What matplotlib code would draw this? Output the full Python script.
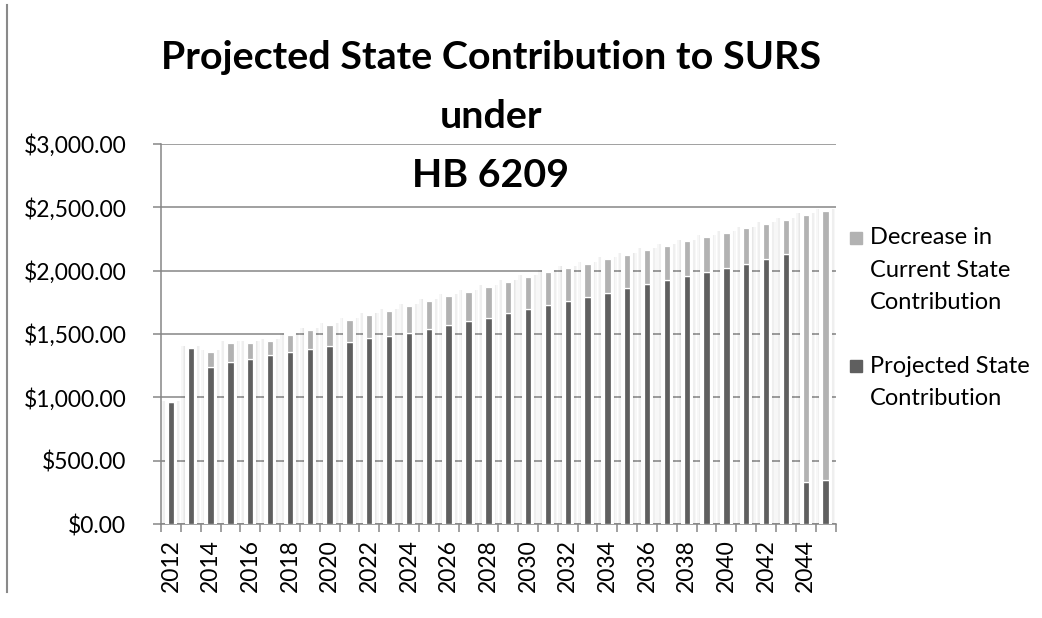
import matplotlib
matplotlib.use("Agg")
import matplotlib.pyplot as plt
from matplotlib.patches import Rectangle
from matplotlib.lines import Line2D
from matplotlib.ticker import FuncFormatter, FixedLocator
import numpy as np

# data (in $ millions)
years = list(range(2012, 2046))
projected = [960, 1393, 1240, 1277, 1306, 1332, 1358, 1385, 1408, 1437,
             1466, 1488, 1510, 1541, 1570, 1604, 1630, 1667, 1698, 1728,
             1762, 1791, 1824, 1860, 1891, 1928, 1959, 1990, 2024, 2055,
             2094, 2131, 330, 345]
decrease = [0, 0, 118, 150, 126, 113, 134, 144, 163, 173,
            184, 194, 210, 221, 228, 231, 244, 244, 250, 264,
            257, 264, 266, 266, 272, 269, 272, 275, 275, 278,
            276, 270, 2108, 2127]
title_lines = ["Projected State Contribution to SURS", "under", "HB 6209"]
legend_labels = [["Decrease in", "Current State", "Contribution"],
                 ["Projected State", "Contribution"]]

DARK = "#5f5f5f"
LIGHT = "#b2b2b2"
GRID = "#868686"
FONT = "Lato"

W, H = 1042, 618
fig = plt.figure(figsize=(W / 100, H / 100), dpi=100)
fig.patch.set_facecolor("white")


def fx(px):
    return px / W


def fy(py):
    return 1 - py / H


ax = fig.add_axes([fx(161), fy(524), fx(835.5) - fx(161), fy(144) - fy(524)])

x = np.arange(len(years))
proj = np.array(projected)
dec = np.array(decrease)
total = proj + dec

# soft glow around each bar
for w in [0.96, 0.8, 0.64, 0.5]:
    ax.bar(x, total + 15, width=w, color="black", alpha=0.03, linewidth=0, zorder=2)
# white halo
ax.bar(x, total, width=0.32, color="white", edgecolor="white", linewidth=4.3, zorder=3)

ax.bar(x, proj, width=0.32, color=DARK, edgecolor="white", linewidth=0.9, zorder=4)
ax.bar(x, dec, width=0.32, bottom=proj, color=LIGHT, edgecolor="white",
       linewidth=0.9, zorder=4)

ax.set_xlim(-0.5, len(years) - 0.5)
ax.set_ylim(0, 3000)
ax.set_yticks(np.arange(0, 3001, 500))
ax.yaxis.set_major_formatter(FuncFormatter(lambda v, p: "${:,.2f}".format(v)))
ax.yaxis.grid(True, color=GRID, linewidth=1.1, zorder=1)
ax.set_axisbelow(True)

ax.xaxis.set_major_locator(FixedLocator(x[::2]))
ax.set_xticklabels([str(y) for y in years[::2]], rotation=90)
ax.xaxis.set_minor_locator(FixedLocator(np.arange(-0.5, len(years), 1.0)))
ax.tick_params(axis="x", which="major", length=0, pad=11)
ax.tick_params(axis="x", which="minor", length=6, color=GRID, width=1.1)
ax.tick_params(axis="y", length=6, color=GRID, width=1.1, pad=19)
for lab in ax.get_xticklabels() + ax.get_yticklabels():
    lab.set_fontfamily(FONT)
    lab.set_fontsize(16.5)
    lab.set_color("black")

for s in ["top", "right"]:
    ax.spines[s].set_visible(False)
for s in ["left", "bottom"]:
    ax.spines[s].set_color(GRID)
    ax.spines[s].set_linewidth(1.1)

# title, three centred lines
for line, base in zip(title_lines, [69.3, 128.0, 186.7]):
    fig.text(fx(491), fy(base), line, ha="center", va="baseline",
             fontsize=28.4, fontweight="bold", family=FONT)

# legend drawn by hand to keep Excel-like line spacing
for labels, colour, base in zip(legend_labels, [LIGHT, DARK], [244.5, 372.7]):
    fig.add_artist(Rectangle((fx(850), fy(base - 0.7)), fx(12), fy(0) - fy(12),
                             transform=fig.transFigure, color=colour))
    for i, t in enumerate(labels):
        fig.text(fx(870), fy(base + i * 32.2), t, ha="left", va="baseline",
                 fontsize=17, family=FONT)

# page border line on the left
fig.add_artist(Line2D([fx(7), fx(7)], [fy(5), fy(592)], color="#8a8a8a",
                      linewidth=1.5, transform=fig.transFigure))

fig.savefig("out.png", dpi=100)
